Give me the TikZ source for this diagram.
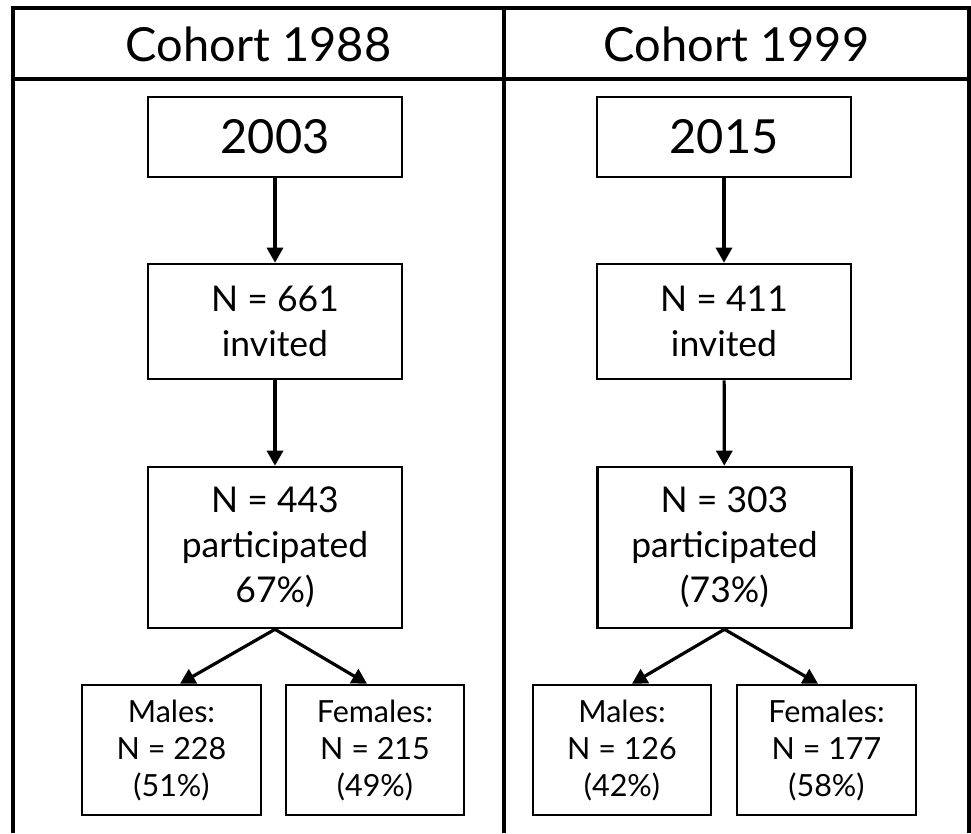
\documentclass[tikz,border=0pt]{standalone}
\usepackage{fontspec}
\setmainfont{Lato}
\usetikzlibrary{arrows.meta}
\begin{document}
\begin{tikzpicture}[x=1pt,y=-1pt,
  frame/.style={line width=3.4pt},
  box/.style={draw, line width=2.6pt, inner sep=0pt, align=center},
  bigtxt/.style={font=\fontsize{47}{56}\selectfont},
  midtxt/.style={font=\fontsize{35.5}{45}\selectfont},
  smalltxt/.style={font=\fontsize{30.5}{37}\selectfont},
  arr/.style={line width=3.2pt, -{Triangle[length=15pt,width=16pt]}}
]
\useasboundingbox (0,0) rectangle (971,833);
% frame
\coordinate (tl) at (13,8);
\coordinate (tr) at (969,8);
\coordinate (bl) at (13,833);
\coordinate (br) at (969,833);
\coordinate (tm) at (504,8);
\coordinate (bm) at (504,833);
\coordinate (hl) at (13,79);
\coordinate (hr) at (969,79);
\draw[frame] (bl) -- (tl) -- (tr) -- (br);
\draw[frame] (tm) -- (bm);
\draw[frame] (hl) -- (hr);
% headers
\node[bigtxt] (h1) at (258.5,44) {Cohort 1988};
\node[bigtxt] (h2) at (736.5,44) {Cohort 1999};
% left panel
\node[box, bigtxt, minimum width=254pt, minimum height=80pt] (y1) at (275,137) {2003};
\node[box, midtxt, minimum width=254pt, minimum height=115pt] (i1) at (275,321.5) {N = 661\\invited};
\node[box, midtxt, minimum width=254pt, minimum height=161pt] (p1) at (275,547.5) {N = 443\\participated\\67\%)};
\node[box, smalltxt, minimum width=179pt, minimum height=130pt] (m1) at (171.5,750) {Males:\\N = 228\\(51\%)};
\node[box, smalltxt, minimum width=178pt, minimum height=130pt] (f1) at (375,750) {Females:\\N = 215\\(49\%)};
% right panel
\node[box, bigtxt, minimum width=254pt, minimum height=80pt] (y2) at (724,137) {2015};
\node[box, midtxt, minimum width=254pt, minimum height=115pt] (i2) at (724,321.5) {N = 411\\invited};
\node[box, midtxt, minimum width=254pt, minimum height=161pt] (p2) at (724.5,547.5) {N = 303\\participated\\(73\%)};
\node[box, smalltxt, minimum width=178pt, minimum height=130pt] (m2) at (622,750) {Males:\\N = 126\\(42\%)};
\node[box, smalltxt, minimum width=179pt, minimum height=130pt] (f2) at (826.5,750) {Females:\\N = 177\\(58\%)};
% arrows
\draw[arr] (y1) -- (i1);
\draw[arr] (i1) -- (p1);
\draw[arr] (p1.south) -- ([xshift=8.5pt]m1.north);
\draw[arr] (p1.south) -- ([xshift=-8pt]f1.north);
\draw[arr] (y2) -- (i2);
\draw[arr] (i2) -- (p2);
\draw[arr] (p2.south) -- ([xshift=10pt]m2.north);
\draw[arr] (p2.south) -- ([xshift=-8.5pt]f2.north);
\end{tikzpicture}
\end{document}
